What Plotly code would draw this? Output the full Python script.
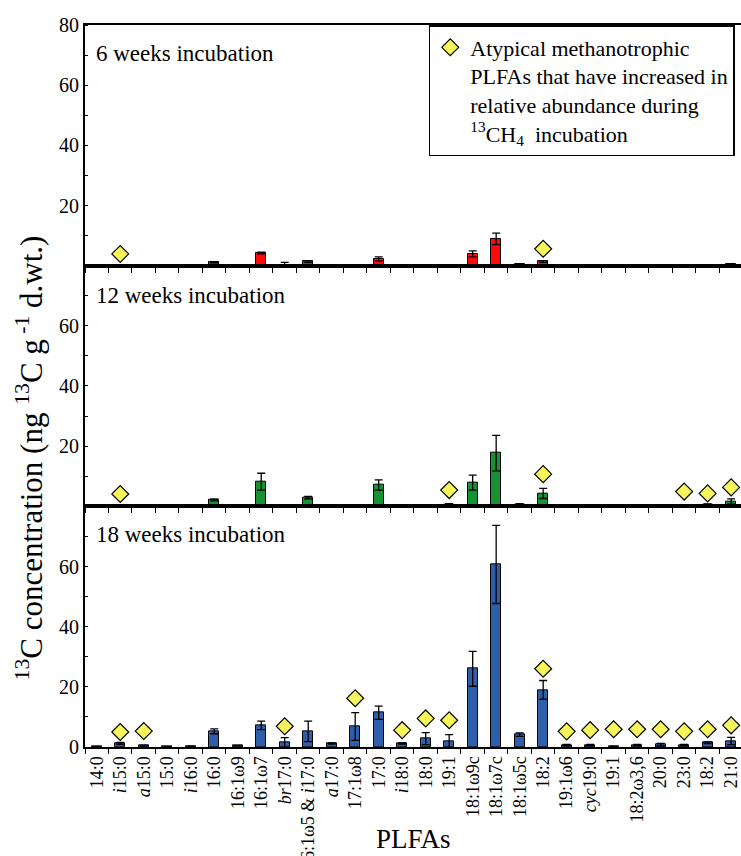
import plotly.graph_objects as go
from plotly.subplots import make_subplots

# ---- data ----
plfa_labels = ["14:0", "<i>i</i>15:0", "<i>a</i>15:0", "15:0", "<i>i</i>16:0", "16:0", "16:1ω9", "16:1ω7",
               "<i>br</i>17:0", "16:1ω5 & <i>i</i>17:0", "<i>a</i>17:0", "17:1ω8", "17:0", "<i>i</i>18:0",
               "18:0", "19:1", "18:1ω9c", "18:1ω7c", "18:1ω5c", "18:2", "19:1ω6", "<i>cyc</i>19:0",
               "19:1", "18:2ω3,6", "20:0", "23:0", "18:2", "21:0"]
positions = list(range(len(plfa_labels)))

wk6_values = [0.1, 0.3, 0.1, 0.1, 0.1, 1.1, 0.1, 4.2, 0.1, 1.4, 0.2, 0.2, 2.2, 0.1,
              0.1, 0.1, 3.9, 8.9, 0.4, 1.4, 0.1, 0.1, 0.1, 0.1, 0.1, 0.1, 0.1, 0.4]
wk6_errors = [0, 0, 0, 0, 0, 0.2, 0, 0.3, 1.0, 0.3, 0, 0, 0.7, 0,
              0, 0, 1.0, 1.9, 0.1, 0.3, 0, 0, 0, 0, 0, 0, 0, 0.1]
wk12_values = [0.1, 0.2, 0.1, 0.1, 0.1, 2.1, 0.1, 8.2, 0.2, 2.9, 0.2, 0.2, 7.1, 0.2,
               0.2, 0.5, 7.9, 17.7, 0.7, 4.3, 0.2, 0.2, 0.1, 0.2, 0.2, 0.2, 0.6, 1.6]
wk12_errors = [0, 0, 0, 0, 0, 0.3, 0, 2.8, 0, 0.4, 0, 0, 1.7, 0,
               0, 0.4, 2.5, 5.9, 0.2, 1.7, 0, 0, 0, 0, 0, 0, 0.2, 0.9]
wk18_values = [0.1, 1.2, 0.5, 0.1, 0.3, 5.2, 0.4, 7.2, 1.5, 5.2, 1.2, 6.8, 11.4, 1.2,
               2.8, 1.9, 26.0, 60.7, 4.1, 19.0, 0.7, 0.7, 0.2, 0.7, 0.8, 0.7, 1.4, 2.0]
wk18_errors = [0, 0.3, 0, 0, 0, 0.8, 0, 1.4, 1.6, 3.4, 0.2, 4.6, 2.2, 0.2,
               2.0, 2.2, 5.8, 13.0, 0.6, 3.1, 0.2, 0.2, 0, 0.2, 0.4, 0.2, 0.3, 1.2]

wk6_marker_x = [1, 19]
wk6_marker_y = [3.9, 5.6]
wk12_marker_x = [1, 15, 19, 25, 26, 27]
wk12_marker_y = [4.1, 5.4, 10.7, 4.9, 4.3, 6.3]
wk18_marker_x = [1, 2, 8, 11, 13, 14, 15, 19, 20, 21, 22, 23, 24, 25, 26, 27]
wk18_marker_y = [5.0, 5.3, 6.9, 16.2, 5.6, 9.5, 8.9, 26.0, 5.2, 5.6, 5.9, 5.9, 5.9, 5.2, 5.9, 7.2]

panel_titles = ["6 weeks incubation", "12 weeks incubation", "18 weeks incubation"]
bar_colors = ["#FF0A0A", "#179232", "#2F5FAA"]
legend_text = ("Atypical methanotrophic<br>PLFAs that have increased in<br>"
               "relative abundance during<br><sup>13</sup>CH<sub>4</sub>  incubation")

FONT = "Liberation Serif"

fig = make_subplots(rows=3, cols=1, shared_xaxes=True, vertical_spacing=0)

series = [(wk6_values, wk6_errors, wk6_marker_x, wk6_marker_y),
          (wk12_values, wk12_errors, wk12_marker_x, wk12_marker_y),
          (wk18_values, wk18_errors, wk18_marker_x, wk18_marker_y)]

for i, (vals, errs, mx, my) in enumerate(series):
    row = i + 1
    fig.add_trace(go.Bar(
        x=positions, y=vals, width=0.43,
        marker=dict(color=bar_colors[i], line=dict(color="black", width=1)),
        error_y=dict(type="data", array=errs, visible=True, color="black", thickness=1.3, width=4),
        showlegend=False, name=panel_titles[i]), row=row, col=1)
    fig.add_trace(go.Scatter(
        x=mx, y=my, mode="markers", cliponaxis=False,
        marker=dict(symbol="diamond", size=13, color="#F6F65A", line=dict(color="black", width=1.2)),
        name=legend_text, showlegend=(i == 0)), row=row, col=1)

tick_sets = [[20, 40, 60, 80], [20, 40, 60], [0, 20, 40, 60]]
for i in range(3):
    yname = "yaxis" if i == 0 else f"yaxis{i+1}"
    xname = "xaxis" if i == 0 else f"xaxis{i+1}"
    fig.layout[yname].update(
        range=[0, 80], tickvals=tick_sets[i], ticks="", showgrid=False, zeroline=False,
        showline=True, linecolor="black", linewidth=2, mirror=True, automargin=False,
        tickfont=dict(family=FONT, size=20, color="black"),
        minor=dict(dtick=10, tick0=0, ticks="inside", ticklen=3, tickcolor="black", showgrid=False))
    fig.layout[xname].update(
        range=[-0.5, 27.42], showgrid=False, zeroline=False,
        showline=True, linecolor="black", linewidth=2, mirror=True, automargin=False,
        tickvals=positions, ticktext=plfa_labels, ticks="",
        minor=dict(tick0=0.5, dtick=1, ticks="outside", ticklen=5, tickcolor="black", showgrid=False),
        tickfont=dict(family=FONT, size=18, color="black"), tickangle=-90)

for i, t in enumerate(panel_titles):
    yref = "y domain" if i == 0 else f"y{i+1} domain"
    xref = "x domain" if i == 0 else f"x{i+1} domain"
    fig.add_annotation(text=t, xref=xref, yref=yref, x=0.013, y=[0.94, 0.935, 0.945][i],
                       xanchor="left", yanchor="top", showarrow=False,
                       font=dict(family=FONT, size=23, color="black"))

fig.add_annotation(text="PLFAs", xref="paper", yref="paper", x=0.5, y=-0.128,
                   xanchor="center", yanchor="middle", showarrow=False,
                   font=dict(family=FONT, size=27, color="black"))

fig.add_annotation(
    text="<sup>13</sup>C concentration (ng <sup>13</sup>C g<sup> -1</sup> d.wt.)",
    xref="paper", yref="paper", x=-0.085, y=0.4, textangle=-90, showarrow=False,
    xanchor="center", yanchor="middle", font=dict(family=FONT, size=31, color="black"))

fig.update_layout(
    width=741, height=856, bargap=0,
    margin=dict(l=85, r=0, t=25, b=109, autoexpand=False),
    plot_bgcolor="white", paper_bgcolor="white",
    legend=dict(x=0.524, y=1.0, xanchor="left", yanchor="top", valign="top",
                bgcolor="white", bordercolor="black", borderwidth=1.5,
                font=dict(family=FONT, size=22, color="black"),
                itemwidth=30, tracegroupgap=0),
)

fig.write_html("out.html", config={"displayModeBar": False},
               post_script="document.body.style.margin='0';document.body.style.overflow='hidden';")
